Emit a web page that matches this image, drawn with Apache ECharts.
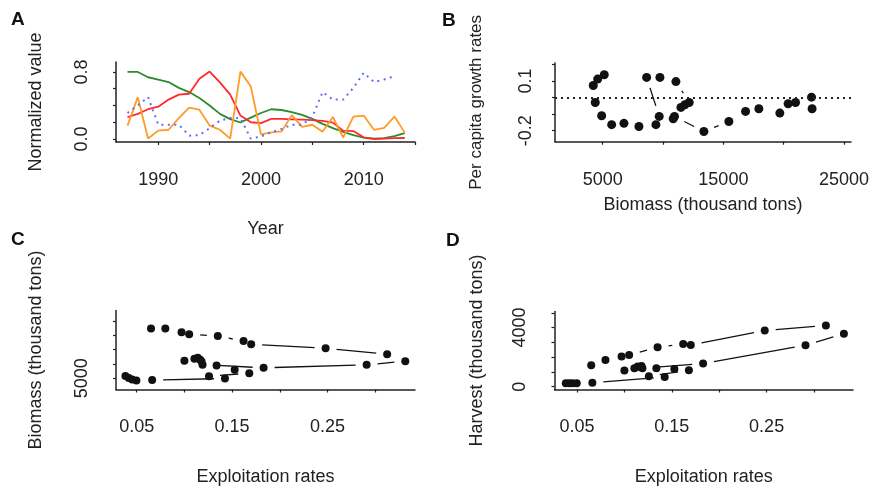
<!DOCTYPE html>
<html>
<head>
<meta charset="utf-8">
<script src="https://cdn.jsdelivr.net/npm/echarts@6.0.0/dist/echarts.min.js"></script>
<style>
  html, body { margin: 0; padding: 0; background: #fff; }
  #main { width: 872px; height: 487px; }
</style>
</head>
<body>
<div id="main"></div>
<script>
// one value per year, 1987-2014
var years = [1987, 1988, 1989, 1990, 1991, 1992, 1993, 1994, 1995, 1996, 1997, 1998, 1999, 2000,
             2001, 2002, 2003, 2004, 2005, 2006, 2007, 2008, 2009, 2010, 2011, 2012, 2013, 2014];

// panel A, normalized series
var greenNorm  = [0.80, 0.80, 0.737, 0.71, 0.68, 0.61, 0.56, 0.49, 0.40, 0.30, 0.237, 0.197, 0.255, 0.31,
                  0.355, 0.346, 0.322, 0.287, 0.24, 0.18, 0.13, 0.085, 0.045, 0.015, 0.003, 0.01, 0.035, 0.07];
var redNorm    = [0.26, 0.30, 0.355, 0.385, 0.47, 0.53, 0.54, 0.72, 0.805, 0.675, 0.53, 0.28, 0.20, 0.19,
                  0.24, 0.24, 0.235, 0.23, 0.225, 0.215, 0.195, 0.10, 0.095, 0.02, 0.0, 0.005, 0.01, 0.012];
var orangeNorm = [0.16, 0.50, 0.005, 0.10, 0.11, 0.25, 0.374, 0.35, 0.16, 0.11, 0.005, 0.804, 0.63, 0.055,
                  0.08, 0.09, 0.285, 0.145, 0.17, 0.085, 0.263, 0.018, 0.266, 0.28, 0.11, 0.133, 0.268, 0.076];
var blueNorm   = [0.31, 0.40, 0.50, 0.17, 0.17, 0.17, 0.04, 0.045, 0.13, 0.22, 0.25, 0.25, 0.005, 0.03,
                  0.08, 0.12, 0.17, 0.17, 0.26, 0.56, 0.47, 0.47, 0.61, 0.79, 0.68, 0.71, 0.75, null];

// panels B-D
var biomass      = [22302, 22350, 20977, 20364, 19677, 17939, 16838, 15455, 13386, 10950, 9685, 8642, 9743, 11068,
                    12169, 11813, 11482, 10844, 9412, 8005, 6763, 5745, 4917, 4387, 4222, 4586, 5132, 5802];
var growth       = [0.002, -0.068, -0.030, -0.038, -0.094, -0.068, -0.084, -0.145, -0.205, -0.115, -0.114, 0.121, 0.121, 0.096,
                    -0.030, -0.044, -0.060, -0.128, -0.164, -0.175, -0.156, -0.164, -0.110, -0.030, 0.072, 0.111, 0.137];
var exploitation = [0.065, 0.080, 0.097, 0.105, 0.135, 0.162, 0.170, 0.248, 0.3125, 0.3315, 0.291, 0.183, 0.119, 0.100,
                    0.114, 0.1105, 0.1165, 0.118, 0.1337, 0.1527, 0.168, 0.1258, 0.1425, 0.0662, 0.0497, 0.0452, 0.0417, 0.0382];
var harvest      = [1449, 1810, 2036, 2149, 2669, 2895, 2827, 3799, 4138, 3573, 2805, 1562, 1245, 1087,
                    1358, 1250, 1330, 1400, 1245, 1200, 1110, 703, 658, 273, 228, 228, 228, 228];

// ticks and labels
var yearTicks = [1990, 1995, 2000, 2005, 2010, 2015];
var yearLabels = [1990, 2000, 2010];
var normTicks = [0, 0.2, 0.4, 0.6, 0.8];
var normLabels = [0, 0.8];
var biomassTicksB = [5000, 10000, 15000, 20000, 25000];
var biomassLabelsB = [5000, 15000, 25000];
var growthTicks = [-0.2, -0.1, 0, 0.1, 0.2];
var growthLabels = [-0.2, 0.1];
var rateTicks = [0.05, 0.10, 0.15, 0.20, 0.25, 0.30];
var rateLabels = [0.05, 0.15, 0.25];
var biomassTicksC = [5000, 10000, 15000, 20000, 25000];
var biomassLabelsC = [5000];
var harvestTicks = [0, 1000, 2000, 3000, 4000, 5000];
var harvestLabels = [0, 4000];

var FONT = 'Liberation Sans, Arial, Helvetica, sans-serif';
var INK = '#222';

function points(xs, ys) {
  var out = [];
  for (var i = 0; i < ys.length; i++) out.push([xs[i], ys[i]]);
  return out;
}
function pairs(xs, ys) {
  var out = [];
  for (var i = 0; i < ys.length - 1; i++) out.push([xs[i], ys[i], xs[i + 1], ys[i + 1]]);
  return out;
}

// R type="b": segments between consecutive points, with a gap round each point
function gapLines(gap) {
  return function (params, api) {
    var p1 = api.coord([api.value(0), api.value(1)]);
    var p2 = api.coord([api.value(2), api.value(3)]);
    var dx = p2[0] - p1[0], dy = p2[1] - p1[1];
    var d = Math.sqrt(dx * dx + dy * dy);
    if (d <= 2 * gap) return null;
    var ux = dx / d, uy = dy / d;
    return {
      type: 'line',
      shape: { x1: p1[0] + ux * gap, y1: p1[1] + uy * gap, x2: p2[0] - ux * gap, y2: p2[1] - uy * gap },
      style: { stroke: '#111', lineWidth: 1.3 }
    };
  };
}

function axis(o) {
  return {
    type: 'value',
    gridIndex: o.grid,
    min: o.min,
    max: o.max,
    name: o.name,
    nameLocation: 'middle',
    nameGap: o.nameGap,
    nameMoveOverlap: false,
    nameTextStyle: { color: INK, fontSize: o.nameSize || 18, fontFamily: FONT },
    axisLine: { show: true, onZero: false, lineStyle: { color: INK, width: 1.5 } },
    axisTick: { show: true, length: 3, customValues: o.ticks, lineStyle: { color: INK, width: 1.2 } },
    axisLabel: {
      customValues: o.labels,
      rotate: o.rotate || 0,
      margin: o.margin,
      color: INK,
      fontSize: 18,
      fontFamily: FONT,
      formatter: o.fmt
    },
    splitLine: { show: false }
  };
}

var fmt1 = function (v) { return v.toFixed(1); };
var fmt2 = function (v) { return v.toFixed(2); };
var fmt0 = function (v) { return String(Math.round(v)); };

var dot = { color: '#111', opacity: 1 };

var chart = echarts.init(document.getElementById('main'));
chart.setOption({
  animation: false,
  backgroundColor: '#fff',
  grid: [
    { left: 116, top: 62, width: 299, height: 80, outerBoundsMode: 'none' },
    { left: 555, top: 63, width: 296, height: 78.7, outerBoundsMode: 'none' },
    { left: 116, top: 310.5, width: 299, height: 79, outerBoundsMode: 'none' },
    { left: 554.5, top: 311.5, width: 298.5, height: 78, outerBoundsMode: 'none' }
  ],
  xAxis: [
    axis({ grid: 0, min: 1985.88, max: 2015, name: 'Year', nameGap: 78, ticks: yearTicks, labels: yearLabels, margin: 29, fmt: fmt0 }),
    axis({ grid: 1, min: 1052, max: 25572, name: 'Biomass (thousand tons)', nameGap: 54, ticks: biomassTicksB, labels: biomassLabelsB, margin: 29, fmt: fmt0 }),
    axis({ grid: 2, min: 0.0283, max: 0.3417, name: 'Exploitation rates', nameGap: 79, ticks: rateTicks, labels: rateLabels, margin: 29, fmt: fmt2 }),
    axis({ grid: 3, min: 0.02627, max: 0.3411, name: 'Exploitation rates', nameGap: 79, ticks: rateTicks, labels: rateLabels, margin: 29, fmt: fmt2 })
  ],
  yAxis: [
    axis({ grid: 0, min: -0.036, max: 0.919, name: 'Normalized value', nameGap: 71, ticks: normTicks, labels: normLabels, rotate: 90, margin: 25, fmt: fmt1 }),
    axis({ grid: 1, min: -0.2667, max: 0.208, name: 'Per capita growth rates', nameGap: 70, nameSize: 17, ticks: growthTicks, labels: growthLabels, rotate: 90, margin: 20, fmt: fmt1 }),
    axis({ grid: 2, min: 1092, max: 28587, name: 'Biomass (thousand tons)', nameGap: 71, ticks: biomassTicksC, labels: biomassLabelsC, rotate: 90, margin: 25, fmt: fmt0 }),
    axis({ grid: 3, min: -190, max: 5085, name: 'Harvest (thousand tons)', nameGap: 68, ticks: harvestTicks, labels: harvestLabels, rotate: 90, margin: 25, fmt: fmt0 })
  ],
  series: [
    // A
    { type: 'line', xAxisIndex: 0, yAxisIndex: 0, data: points(years, greenNorm), symbol: 'none',
      lineStyle: { color: '#2f8a2f', width: 1.8 } },
    { type: 'line', xAxisIndex: 0, yAxisIndex: 0, data: points(years, redNorm), symbol: 'none',
      lineStyle: { color: '#ff2b2b', width: 1.8 } },
    { type: 'line', xAxisIndex: 0, yAxisIndex: 0, data: points(years, orangeNorm), symbol: 'none',
      lineStyle: { color: '#ff9b26', width: 1.8 } },
    { type: 'line', xAxisIndex: 0, yAxisIndex: 0, data: points(years, blueNorm), symbol: 'none',
      lineStyle: { color: '#5d6dff', width: 2, type: [2, 4.5] } },
    // B
    { type: 'custom', xAxisIndex: 1, yAxisIndex: 1, data: pairs(biomass, growth), renderItem: gapLines(11),
      encode: { x: [0, 2], y: [1, 3] }, silent: true },
    { type: 'scatter', xAxisIndex: 1, yAxisIndex: 1, data: points(biomass, growth), symbolSize: 9,
      itemStyle: dot,
      markLine: { silent: true, symbol: 'none', label: { show: false },
        lineStyle: { color: INK, width: 1.8, type: [2, 4] }, data: [{ yAxis: 0 }] } },
    // C
    { type: 'custom', xAxisIndex: 2, yAxisIndex: 2, data: pairs(exploitation, biomass), renderItem: gapLines(11),
      encode: { x: [0, 2], y: [1, 3] }, silent: true },
    { type: 'scatter', xAxisIndex: 2, yAxisIndex: 2, data: points(exploitation, biomass), symbolSize: 8,
      itemStyle: dot },
    // D
    { type: 'custom', xAxisIndex: 3, yAxisIndex: 3, data: pairs(exploitation, harvest), renderItem: gapLines(11),
      encode: { x: [0, 2], y: [1, 3] }, silent: true },
    { type: 'scatter', xAxisIndex: 3, yAxisIndex: 3, data: points(exploitation, harvest), symbolSize: 8,
      itemStyle: dot }
  ],
  graphic: [
    { type: 'text', left: 11, top: 10, style: { text: 'A', font: 'bold 19px ' + FONT, fill: '#111' } },
    { type: 'text', left: 442, top: 11, style: { text: 'B', font: 'bold 19px ' + FONT, fill: '#111' } },
    { type: 'text', left: 11, top: 230, style: { text: 'C', font: 'bold 19px ' + FONT, fill: '#111' } },
    { type: 'text', left: 446, top: 231, style: { text: 'D', font: 'bold 19px ' + FONT, fill: '#111' } }
  ]
});
</script>
</body>
</html>
